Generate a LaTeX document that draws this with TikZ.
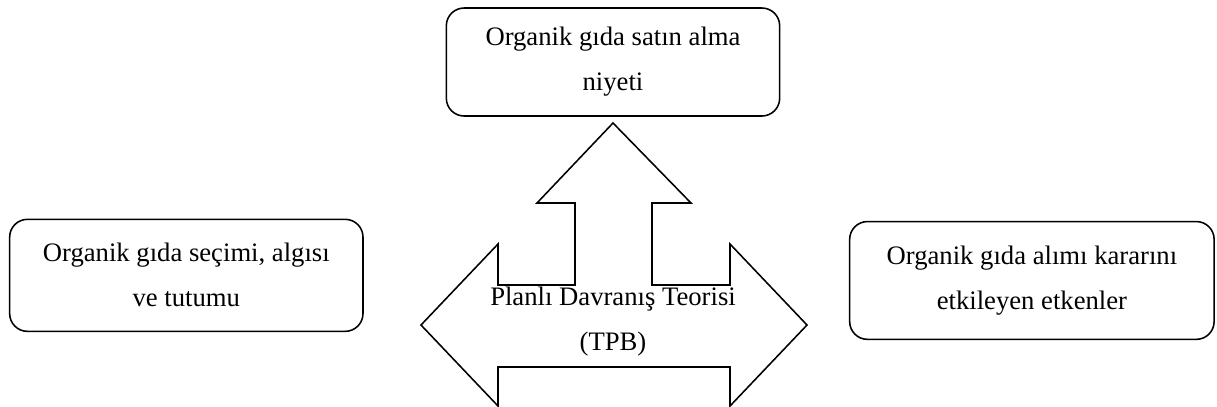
\documentclass[tikz,border=0pt]{standalone}
\usepackage{fontspec}
\setmainfont{Liberation Serif}
\usepackage{tikz}
\usetikzlibrary{positioning}
\tikzstyle{kutu} = [rectangle, rounded corners=8pt, minimum height=50pt, text centered, align=center, draw=black, line width=0.7pt, font=\fontsize{12pt}{20.25pt}\selectfont]
\tikzstyle{etiket} = [align=center, font=\fontsize{12pt}{20.25pt}\selectfont]
\tikzstyle{okblok} = [draw=black, line width=0.7pt, line join=miter]

\begin{document}
\begin{tikzpicture}[x=0.45pt, y=-0.45pt] % 1 unit = 1 px of the reference

\useasboundingbox (0,0) rectangle (1217,406);

% Big arrow: up arrow on a double arrow
\draw [okblok] (613,123) -- (691,203) -- (652,203) -- (652,285) -- (730,285) -- (730,244)
  -- (807,325) -- (730,406) -- (730,367) -- (498,367) -- (498,406) -- (421,325)
  -- (498,244) -- (498,285) -- (575,285) -- (575,203) -- (537,203) -- cycle;

% Nodes
\node (niyet) [kutu, minimum width=150pt, minimum height=48.6pt] at (613,62) {Organik gıda satın alma\\niyeti};
\node (tpb) [etiket, below of=niyet, node distance=117pt] {Planlı Davranış Teorisi\\(TPB)};
\node (secim) [kutu, left of=tpb, node distance=192pt, yshift=21pt, minimum width=159pt, minimum height=50.4pt] {Organik gıda seçimi, algısı\\ve tutumu};
\node (etken) [kutu, right of=tpb, node distance=188.5pt, yshift=18.7pt, minimum width=164pt, minimum height=53pt] {Organik gıda alımı kararını\\etkileyen etkenler};

\end{tikzpicture}
\end{document}
